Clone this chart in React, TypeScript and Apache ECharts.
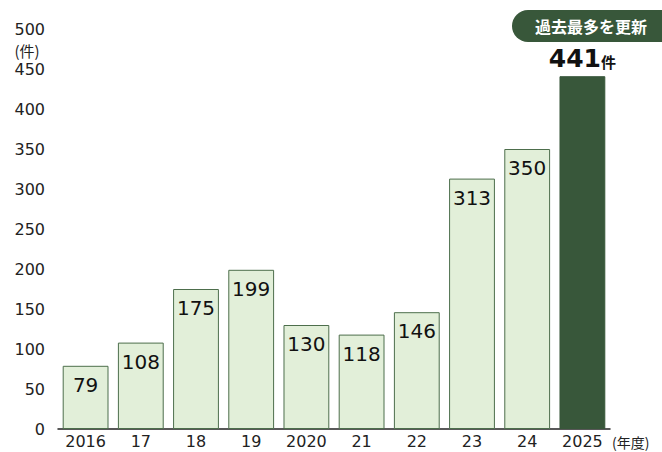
import React, { useEffect, useRef } from "react";
import * as echarts from "echarts";

const categories = ["2016", "17", "18", "19", "2020", "21", "22", "23", "24", "2025"];
const values = [79, 108, 175, 199, 130, 118, 146, 313, 350, 441];
const yTicks = [0, 50, 100, 150, 200, 250, 300, 350, 400, 450, 500];
const badgeText = "過去最多を更新";
const unitText = "(件)";
const yearUnitText = "(年度)";

const FONT = "'DejaVu Sans', 'Noto Sans CJK JP', sans-serif";
const CJK = "'Noto Sans CJK JP', sans-serif";
const LIGHT = "#e2efd9";
const BORDER = "#4d6e4c";
const DARK = "#38573a";

export default function App() {
  const ref = useRef<HTMLDivElement>(null);
  useEffect(() => {
    if (!ref.current) return;
    const chart = echarts.init(ref.current, undefined, { renderer: "svg" });
    const last = values.length - 1;
    chart.setOption({
      animation: false,
      textStyle: { fontFamily: FONT },
      grid: { left: 58, right: 52, top: 29, bottom: 23, containLabel: false },
      xAxis: {
        type: "category",
        data: categories,
        axisLine: { show: true, lineStyle: { color: "#222", width: 1.5 } },
        axisTick: { show: false },
        axisLabel: { color: "#222", fontSize: 16, fontFamily: FONT, margin: 4 },
      },
      yAxis: {
        type: "value",
        min: yTicks[0],
        max: yTicks[yTicks.length - 1],
        interval: 50,
        axisLine: { show: false },
        axisTick: { show: false },
        splitLine: { show: false },
        axisLabel: { color: "#222", fontSize: 16, fontFamily: FONT, margin: 13 },
      },
      series: [
        {
          type: "bar",
          barCategoryGap: "17%",
          data: values.map((v, i) =>
            i === last
              ? {
                  value: v,
                  itemStyle: { color: DARK, borderColor: DARK, borderWidth: 1 },
                  label: {
                    show: true,
                    position: "top",
                    distance: 5,
                    formatter: "{a|{c}}{b|件}",
                    rich: {
                      a: { fontSize: 25, fontWeight: "bold", color: "#111", fontFamily: FONT },
                      b: { fontSize: 15, fontWeight: "bold", color: "#111", fontFamily: CJK, padding: [5, 0, 0, 0] },
                    },
                  },
                }
              : {
                  value: v,
                  itemStyle: { color: LIGHT, borderColor: BORDER, borderWidth: 1 },
                  label: {
                    show: true,
                    position: "insideTop",
                    distance: 9,
                    fontSize: 20,
                    color: "#111",
                    fontFamily: FONT,
                  },
                }
          ),
        },
      ],
      graphic: [
        {
          type: "rect",
          shape: { x: 512, y: 10, width: 170, height: 32, r: 16 },
          style: { fill: DARK },
        },
        {
          type: "text",
          x: 591,
          y: 26,
          style: {
            text: badgeText,
            fill: "#fff",
            fontSize: 16,
            fontWeight: "bold",
            fontFamily: CJK,
            align: "center",
            verticalAlign: "middle",
          },
        },
        {
          type: "text",
          x: 27,
          y: 50,
          style: {
            text: unitText,
            fill: "#222",
            fontSize: 15,
            fontFamily: CJK,
            align: "center",
            verticalAlign: "middle",
          },
        },
        {
          type: "text",
          x: 612,
          y: 442,
          style: {
            text: yearUnitText,
            fill: "#222",
            fontSize: 14,
            fontFamily: CJK,
            align: "left",
            verticalAlign: "middle",
          },
        },
      ],
    });
    return () => chart.dispose();
  }, []);
  return (
    <div
      ref={ref}
      style={{ position: "fixed", left: 0, top: 0, width: 662, height: 452, background: "#fff" }}
    />
  );
}
